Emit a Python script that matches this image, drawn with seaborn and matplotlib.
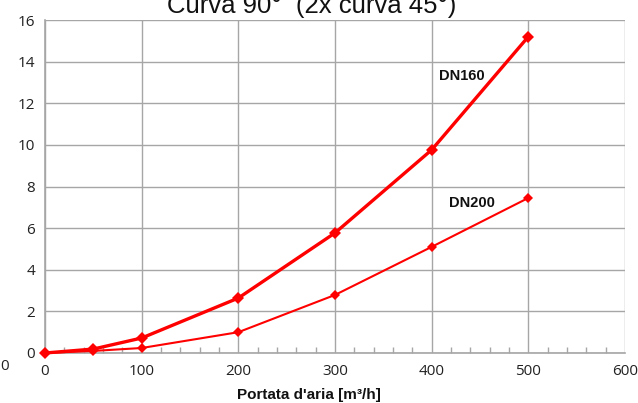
import numpy as np
import pandas as pd
import matplotlib
matplotlib.use("Agg")
import matplotlib.pyplot as plt
import seaborn as sns
from matplotlib.ticker import MultipleLocator

# portata d'aria [m3/h] and pressure loss
portata = [0, 50, 100, 200, 300, 400, 500]
dn160 = [0, 0.19, 0.72, 2.64, 5.77, 9.76, 15.2]
dn200 = [0, 0.10, 0.24, 1.0, 2.79, 5.1, 7.45]

sns.set_theme(style="white")
plt.rcParams['font.family'] = ['Liberation Sans', 'DejaVu Sans']

fig = plt.figure(figsize=(6.38, 4.03), dpi=100)
ax = fig.add_axes([45 / 638, 1 - 353 / 403, 580 / 638, 333 / 403])

grid_c = '#a6a6a6'
red = '#ff0000'

sns.lineplot(x=portata, y=dn160, ax=ax, color=red, lw=2.4, marker='D',
             markersize=6.5, markeredgewidth=0, clip_on=False, zorder=5)
sns.lineplot(x=portata, y=dn200, ax=ax, color=red, lw=1.5, marker='D',
             markersize=5, markeredgewidth=0, clip_on=False, zorder=5)

ax.set_xlim(0, 600)
ax.set_ylim(0, 16)
ax.xaxis.set_major_locator(MultipleLocator(100))
ax.xaxis.set_minor_locator(MultipleLocator(20))
ax.yaxis.set_major_locator(MultipleLocator(2))
ax.grid(True, which='major', color=grid_c, lw=1)
ax.set_axisbelow(True)
for s in ['top', 'right']:
    ax.spines[s].set_visible(False)
for s in ['left', 'bottom']:
    ax.spines[s].set_color(grid_c)
    ax.spines[s].set_linewidth(1.2)

ax.tick_params(axis='both', which='major', length=0, labelsize=11,
               labelcolor='#222222')
ax.tick_params(axis='x', which='major', pad=8)
ax.tick_params(axis='y', which='major', pad=7)
ax.tick_params(axis='x', which='minor', direction='in', length=4,
               color=grid_c, bottom=True)
for lab in ax.get_xticklabels() + ax.get_yticklabels():
    lab.set_family(['Open Sans', 'DejaVu Sans'])

ax.set_xlabel("Portata d'aria [m³/h]", fontsize=11, fontweight='bold',
              color='#111111')
ax.xaxis.set_label_coords((309 - 45) / 580, -0.105)

ax.text(408, 13.3, 'DN160', fontsize=10.5, fontweight='bold', color='#111111',
        va='center')
ax.text(418, 7.2, 'DN200', fontsize=10.5, fontweight='bold', color='#111111',
        va='center')

fig.text(312 / 638, 1 - 13 / 403, 'Curva 90°  (2x curva 45°)', fontsize=18.5,
         ha='center', va='baseline', color='#111111')
fig.text(0, 1 - 366 / 403, '0', fontsize=11, color='#222222',
         family=['Open Sans', 'DejaVu Sans'], ha='left', va='center')

fig.savefig('out.png', dpi=100)
